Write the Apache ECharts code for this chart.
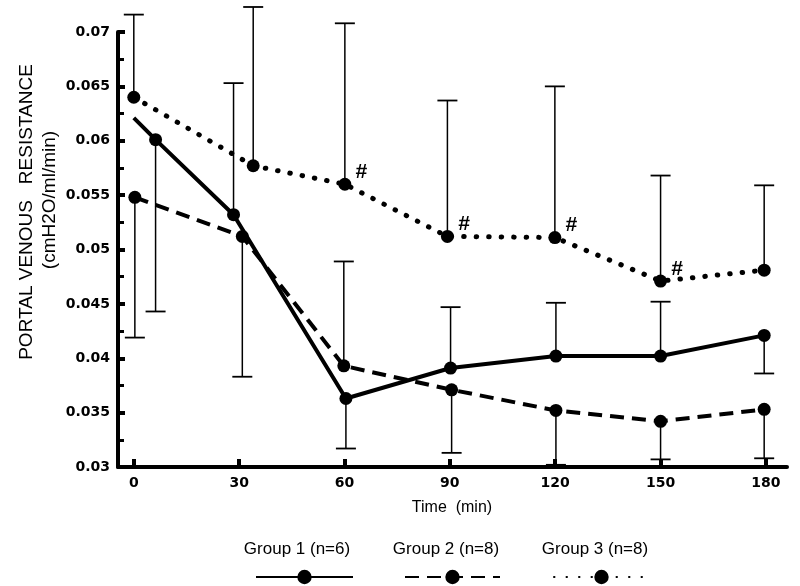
<!DOCTYPE html>
<html>
<head>
<meta charset="utf-8">
<script src="https://cdn.jsdelivr.net/npm/echarts@6/dist/echarts.min.js"></script>
<style>html,body{margin:0;padding:0;background:#fff}#c{width:800px;height:586px}</style>
</head>
<body>
<div id="c"></div>
<script>
// ---- data ----
var seriesNames = ['Group 1 (n=6)', 'Group 2 (n=8)', 'Group 3 (n=8)'];
var xTicks = [0, 30, 60, 90, 120, 150, 180];
var yTicks = [0.03, 0.035, 0.04, 0.045, 0.05, 0.055, 0.06, 0.065, 0.07];

var times1  = [0, 6.2, 28.4, 60.4, 90.2, 120.2, 150, 179.5];
var values1 = [0.0621, 0.0601, 0.0532, 0.0363, 0.0391, 0.0402, 0.0402, 0.0421];
var errEnd1 = [null, 0.0443, 0.0653, 0.0317, 0.0447, 0.0451, 0.0452, 0.0386];
var marker1 = [false, true, true, true, true, true, true, true];

var times2  = [0.3, 30.9, 59.8, 90.5, 120.2, 150, 179.5];
var values2 = [0.0548, 0.0512, 0.0393, 0.0371, 0.0352, 0.0342, 0.0353];
var errEnd2 = [0.0419, 0.0383, 0.0489, 0.0313, 0.0302, 0.0307, 0.0308];

var times3  = [0, 34, 60.1, 89.3, 119.9, 150, 179.5];
var values3 = [0.0640, 0.0577, 0.0560, 0.0512, 0.0511, 0.0471, 0.0481];
var errEnd3 = [0.0716, 0.0723, 0.0708, 0.0637, 0.0650, 0.0568, 0.0559];
var hash3   = [false, false, true, true, true, true, false];

// ---- build ----
function lineData(t, v, marks, hashes) {
  return t.map(function (x, i) {
    var item = { value: [x, v[i]] };
    if (marks && !marks[i]) item.symbol = 'none';
    if (hashes && hashes[i]) {
      item.label = { show: true, formatter: '#', position: 'right', offset: [-1, -12],
        fontSize: 21, fontWeight: 'bold', fontStyle: 'italic', color: '#000', fontFamily: 'Liberation Sans' };
    }
    return item;
  });
}
function errData(t, v, e) {
  var out = [];
  t.forEach(function (x, i) { if (e[i] != null) out.push([x, v[i], e[i]]); });
  return out;
}
function errSeries(data) {
  return {
    type: 'custom', silent: true, z: 1, clip: false,
    encode: { x: 0, y: [1, 2] },
    data: data,
    renderItem: function (params, api) {
      var a = api.coord([api.value(0), api.value(1)]);
      var b = api.coord([api.value(0), api.value(2)]);
      return { type: 'group', children: [
        { type: 'line', shape: { x1: a[0], y1: a[1], x2: b[0], y2: b[1] }, style: { stroke: '#000', lineWidth: 1.5 } },
        { type: 'line', shape: { x1: b[0] - 10, y1: b[1], x2: b[0] + 10, y2: b[1] }, style: { stroke: '#000', lineWidth: 1.8 } }
      ]};
    }
  };
}
var lineBase = { type: 'line', symbol: 'circle', symbolSize: 13, z: 3,
  itemStyle: { color: '#000' }, emphasis: { disabled: true }, animation: false };

var chart = echarts.init(document.getElementById('c'));
var FONT = 'Liberation Sans';
var legendCommon = { top: 563, itemHeight: 18, formatter: function () { return ''; }, selectedMode: false };
chart.setOption({
  animation: false,
  backgroundColor: '#fff',
  grid: { left: 118, right: 13, top: 32, bottom: 119 },
  xAxis: {
    type: 'value', min: -4.5, max: 186,
    axisLine: { show: true, onZero: false, lineStyle: { color: '#000', width: 4 } },
    axisTick: { show: true, inside: true, length: 8, customValues: xTicks, lineStyle: { color: '#000', width: 4 } },
    axisLabel: { customValues: xTicks, margin: 9, color: '#000', fontFamily: 'DejaVu Sans', fontWeight: 'bold', fontSize: 14 },
    splitLine: { show: false }
  },
  yAxis: {
    type: 'value', min: yTicks[0], max: yTicks[yTicks.length - 1], interval: 0.005,
    axisLine: { show: true, onZero: false, lineStyle: { color: '#000', width: 4 } },
    axisTick: { show: true, inside: true, length: 7, lineStyle: { color: '#000', width: 4 } },
    minorTick: { show: true, splitNumber: 2, length: 6, lineStyle: { color: '#000', width: 3 } },
    axisLabel: { margin: 8, color: '#000', fontFamily: 'DejaVu Sans', fontWeight: 'bold', fontSize: 14 },
    splitLine: { show: false }, minorSplitLine: { show: false }
  },
  legend: [
    Object.assign({ data: [seriesNames[0]], left: 250, itemWidth: 97 }, legendCommon),
    Object.assign({ data: [seriesNames[1]], left: 399, itemWidth: 95 }, legendCommon),
    Object.assign({ data: [seriesNames[2]], left: 548, itemWidth: 95 }, legendCommon)
  ],
  graphic: [
    { type: 'text', x: 27, y: 212, rotation: Math.PI / 2, style: { text: 'PORTAL VENOUS   RESISTANCE', fill: '#000', font: '19px ' + FONT, textAlign: 'center', textVerticalAlign: 'middle' } },
    { type: 'text', x: 50, y: 200, rotation: Math.PI / 2, style: { text: '(cmH2O/ml/min)', fill: '#000', font: '19px ' + FONT, textAlign: 'center', textVerticalAlign: 'middle' } },
    { type: 'text', x: 452, y: 508, style: { text: 'Time  (min)', fill: '#000', font: '16px ' + FONT, textAlign: 'center', textVerticalAlign: 'middle' } },
    { type: 'text', x: 297, y: 549, style: { text: seriesNames[0], fill: '#000', font: '17px ' + FONT, textAlign: 'center', textVerticalAlign: 'middle' } },
    { type: 'text', x: 446, y: 549, style: { text: seriesNames[1], fill: '#000', font: '17px ' + FONT, textAlign: 'center', textVerticalAlign: 'middle' } },
    { type: 'text', x: 595, y: 549, style: { text: seriesNames[2], fill: '#000', font: '17px ' + FONT, textAlign: 'center', textVerticalAlign: 'middle' } }
  ],
  series: [
    errSeries(errData(times1, values1, errEnd1)),
    errSeries(errData(times2, values2, errEnd2)),
    errSeries(errData(times3, values3, errEnd3)),
    Object.assign({}, lineBase, { name: seriesNames[0], data: lineData(times1, values1, marker1),
      lineStyle: { color: '#000', width: 4 } }),
    Object.assign({}, lineBase, { name: seriesNames[1], data: lineData(times2, values2),
      lineStyle: { color: '#000', width: 4 , type: [14, 8] } }),
    Object.assign({}, lineBase, { name: seriesNames[2], data: lineData(times3, values3, null, hash3),
      lineStyle: { color: '#000', width: 5, type: [0.5, 12], cap: 'round' } })
  ]
});
</script>
</body>
</html>
